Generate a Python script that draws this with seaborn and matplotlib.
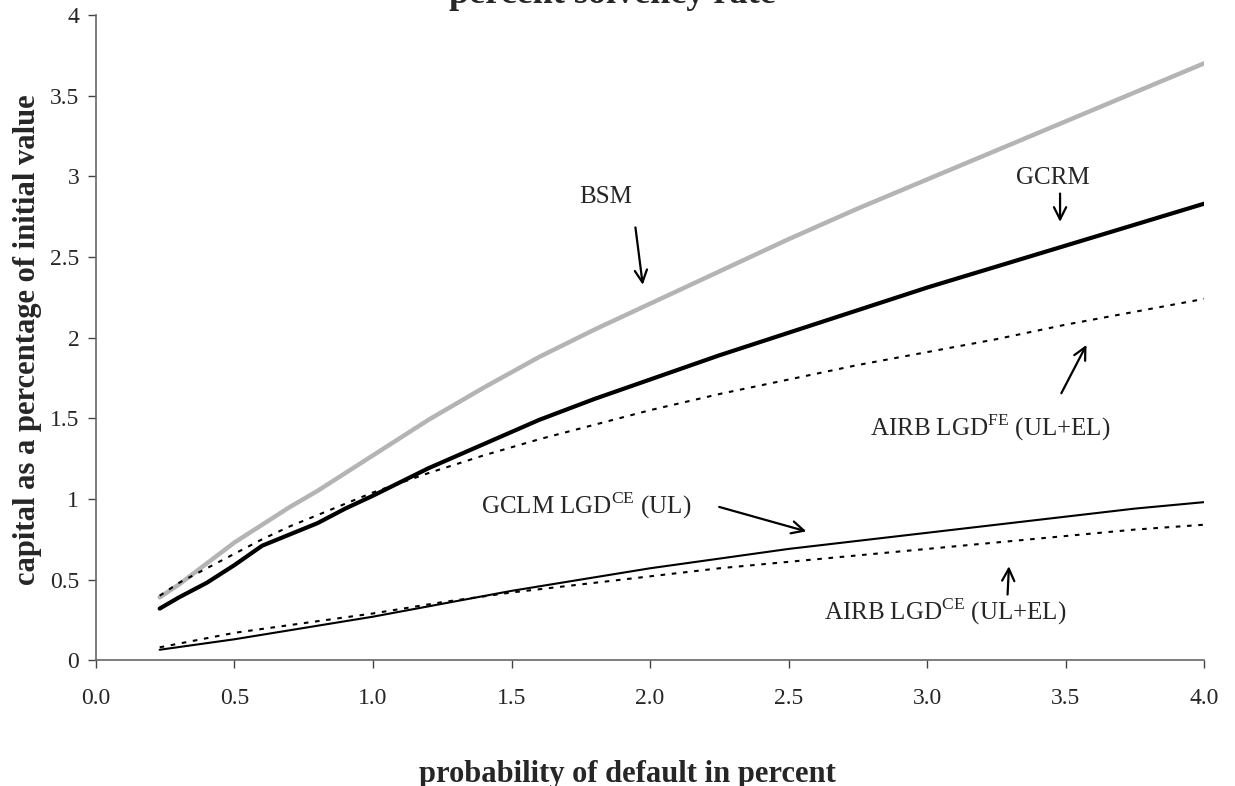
import numpy as np
import pandas as pd
import seaborn as sns
import matplotlib.pyplot as plt

# probability of default in percent
pd_pct = [0.23, 0.3, 0.4, 0.5, 0.6, 0.7, 0.8, 0.9, 1.0, 1.2, 1.4, 1.6, 1.8, 2.0,
          2.25, 2.5, 2.75, 3.0, 3.25, 3.5, 3.75, 4.0]
bsm = [0.39, 0.47, 0.60, 0.73, 0.84, 0.95, 1.05, 1.16, 1.27, 1.49, 1.69, 1.88, 2.05, 2.21,
       2.41, 2.61, 2.80, 2.98, 3.16, 3.34, 3.52, 3.70]
gcrm = [0.32, 0.39, 0.48, 0.59, 0.71, 0.78, 0.85, 0.94, 1.02, 1.19, 1.34, 1.49, 1.62, 1.74,
        1.89, 2.03, 2.17, 2.31, 2.44, 2.57, 2.70, 2.83]
airb_fe = [0.40, 0.48, 0.57, 0.66, 0.75, 0.83, 0.90, 0.97, 1.04, 1.16, 1.27, 1.37, 1.46, 1.55,
           1.65, 1.74, 1.83, 1.91, 1.99, 2.08, 2.16, 2.24]

pd_low = [0.23, 0.5, 0.75, 1.0, 1.25, 1.5, 1.75, 2.0, 2.25, 2.5, 2.75, 3.0, 3.25, 3.5, 3.75, 4.0]
gclm_ce = [0.065, 0.13, 0.20, 0.27, 0.35, 0.43, 0.50, 0.57, 0.63, 0.69, 0.74, 0.79, 0.84, 0.89, 0.94, 0.98]
airb_ce = [0.08, 0.17, 0.23, 0.29, 0.36, 0.42, 0.47, 0.52, 0.57, 0.61, 0.65, 0.69, 0.73, 0.77, 0.81, 0.84]

x_ticks = [0.0, 0.5, 1.0, 1.5, 2.0, 2.5, 3.0, 3.5, 4.0]
y_ticks = [0, 0.5, 1, 1.5, 2, 2.5, 3, 3.5, 4]
y_tick_labels = ["0", "0.5", "1", "1.5", "2", "2.5", "3", "3.5", "4"]

sns.set_style("white")
plt.rcParams["font.family"] = ["Liberation Serif", "DejaVu Serif"]
plt.rcParams["mathtext.fontset"] = "custom"
plt.rcParams["mathtext.rm"] = "Liberation Serif"

fig = plt.figure(figsize=(12.35, 7.86), dpi=100)
ax = fig.add_axes([0.0777, 0.160, 0.975 - 0.0777, 0.981 - 0.160])

dots = (0, (2.2, 3.2))
sns.lineplot(x=pd_pct, y=bsm, ax=ax, color="#b4b4b4", linewidth=3.2)
sns.lineplot(x=pd_pct, y=gcrm, ax=ax, color="black", linewidth=3.0)
sns.lineplot(x=pd_pct, y=airb_fe, ax=ax, color="black", linewidth=1.5, linestyle=dots)
sns.lineplot(x=pd_low, y=gclm_ce, ax=ax, color="black", linewidth=1.5)
sns.lineplot(x=pd_low, y=airb_ce, ax=ax, color="black", linewidth=1.5, linestyle=dots)

ax.set_xlim(0, 4)
ax.set_ylim(0, 4)
ax.set_xticks(x_ticks)
ax.set_xticklabels([f"{t:.1f}" for t in x_ticks])
ax.set_yticks(y_ticks)
ax.set_yticklabels(y_tick_labels)
ax.tick_params(axis="both", direction="out", length=6, width=1, color="#444444",
               labelsize=17, left=True, bottom=True)
ax.tick_params(axis="x", pad=14)
ax.tick_params(axis="y", pad=6)
for s in ["top", "right"]:
    ax.spines[s].set_visible(False)
for s in ["left", "bottom"]:
    ax.spines[s].set_color("#666666")
    ax.spines[s].set_linewidth(1.2)

tk = dict(fontsize=18, ha="center", va="center")
arr = dict(arrowstyle="->", color="black", lw=1.6, mutation_scale=22)
ax.text(1.84, 2.87, "BSM", **tk)
ax.annotate("", xy=(1.975, 2.31), xytext=(1.946, 2.70), arrowprops=arr)
ax.text(3.455, 2.99, "GCRM", **tk)
ax.annotate("", xy=(3.48, 2.70), xytext=(3.48, 2.91), arrowprops=arr)
ax.text(3.227, 1.44, r"AIRB LGD$^{\mathrm{FE}}$ (UL+EL)", **tk)
ax.annotate("", xy=(3.58, 1.97), xytext=(3.48, 1.64), arrowprops=arr)
ax.text(1.769, 0.96, r"GCLM LGD$^{\mathrm{CE}}$ (UL)", **tk)
ax.annotate("", xy=(2.574, 0.794), xytext=(2.24, 0.955), arrowprops=arr)
ax.text(3.065, 0.30, r"AIRB LGD$^{\mathrm{CE}}$ (UL+EL)", **tk)
ax.annotate("", xy=(3.296, 0.60), xytext=(3.29, 0.39), arrowprops=arr)

fig.text(612 / 1235, 1 - 3 / 786, "percent solvency rate", ha="center", va="baseline",
         fontsize=26, fontweight="bold")
fig.text(627 / 1235, 1 - 760 / 786, "probability of default in percent", ha="center",
         va="top", fontsize=22, fontweight="bold")
fig.text(28 / 1235, 1 - 340 / 786, "capital as a percentage of initial value", ha="center",
         va="center", rotation=90, fontsize=22, fontweight="bold")

fig.savefig("out.png", dpi=100)
